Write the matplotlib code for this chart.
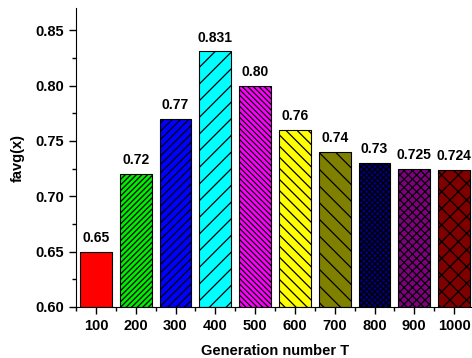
import matplotlib
matplotlib.use("Agg")
import matplotlib.pyplot as plt
from matplotlib.ticker import MultipleLocator

generations = [100, 200, 300, 400, 500, 600, 700, 800, 900, 1000]
favg = [0.65, 0.72, 0.77, 0.831, 0.80, 0.76, 0.74, 0.73, 0.725, 0.724]
labels = ["0.65", "0.72", "0.77", "0.831", "0.80", "0.76", "0.74", "0.73", "0.725", "0.724"]
colors = ["#ff0000", "#00ee00", "#0000ff", "#00ffff", "#ff00ff",
          "#ffff00", "#808000", "#000080", "#800080", "#800000"]
hatches = ["", "//////", "////", "//", "\\\\\\\\\\\\", "\\\\\\", "\\\\",
           "xxxxxx", "xxxx", "xx"]

plt.rcParams['font.family'] = ['Liberation Sans', 'DejaVu Sans']
plt.rcParams['font.weight'] = 'bold'
plt.rcParams['hatch.linewidth'] = 0.9

fig = plt.figure(figsize=(4.72, 3.58), dpi=100)
ax = fig.add_axes([76/472, 51/358, 398/472, 299/358])

bars = ax.bar(generations, [v - 0.60 for v in favg], bottom=0.60, width=80,
              color=colors, edgecolor="black", linewidth=0.8)
for b, h in zip(bars, hatches):
    b.set_hatch(h)

for x, v, t in zip(generations, favg, labels):
    ax.text(x, v + 0.006, t, ha="center", va="bottom", fontsize=10, fontweight="bold")

ax.set_xlim(50, 1050)
ax.set_ylim(0.60, 0.87)
ax.set_xticks(generations)
ax.set_xticklabels([str(g) for g in generations])
ax.xaxis.set_minor_locator(MultipleLocator(50))
ax.yaxis.set_major_locator(MultipleLocator(0.05))
ax.yaxis.set_minor_locator(MultipleLocator(0.025))
ax.yaxis.set_major_formatter(matplotlib.ticker.FormatStrFormatter("%.2f"))

ax.spines['top'].set_visible(False)
ax.spines['right'].set_visible(False)
ax.tick_params(axis='both', which='major', labelsize=10.5, length=5, width=1, direction='out')
ax.tick_params(axis='both', which='minor', length=3, width=1, direction='out')
for lbl in ax.get_xticklabels() + ax.get_yticklabels():
    lbl.set_fontweight('bold')

ax.set_xlabel("Generation number T", fontsize=10.5, fontweight="bold", labelpad=8)
ax.set_ylabel("favg(x)", fontsize=10.5, fontweight="bold", labelpad=8)

fig.savefig("out.png", dpi=100)
